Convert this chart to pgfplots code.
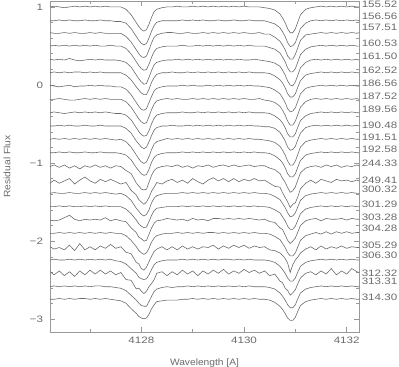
\documentclass[border=0pt]{standalone}
\usepackage{fontspec}
\setmainfont{Liberation Sans}[FakeStretch=1.25]
\newfontfamily\labfont{Liberation Sans}[FakeStretch=1.1]
\usepackage{pgfplots}
\usepackage{pgfplotstable}
\pgfplotsset{compat=1.18}

\definecolor{ink}{gray}{0.42}
\definecolor{frame}{gray}{0.6}
\definecolor{txt}{gray}{0.42}
\tikzset{
    spec/.style={ink, line width=0.6bp},
    lbl/.style={anchor=west, inner sep=0pt, txt},
}

% residual flux relative to each spectrum's continuum; offsets added at plot time
\pgfplotstableread{
x s1 s2 s3 s4 s5 s6 s7 s8 s9 s10 s11 s12 s13 s14 s15 s16 s17 s18 s19 s20 s21 s22 s23
4126.22 0 0 0.01 0 0.01 0 0.01 0 0 0 0 0 0.01 -0.02 0 0 0 0 0.02 0 0.02 0 0
4126.3 0.01 0 0 0.01 0 0.01 0 0 0.01 0 0.01 0 0.03 0.02 0.01 0 -0.01 0 -0.01 0.01 -0.02 0.01 0
4126.4 0 0.01 0 0 0.01 0 -0.01 0.01 0 0.01 0 0.01 0 -0.02 0 0.01 0 0.01 0.01 0 0.03 0 0.01
4126.5 -0.01 0 0.01 0.01 0 0.01 0 0 -0.01 0 0.01 0 0.03 0.01 0 0 0.03 0 -0.02 0 -0.03 0.01 0
4126.6 0 0.01 0 0 0.02 0 0.01 -0.01 0 0.01 0 0.01 -0.01 0.04 0.01 0.01 0.06 0.01 0.04 0.01 0.02 0 0.01
4126.7 0.01 0 0.01 0.01 0 0.01 -0.01 -0.01 0.01 0 0.01 0 0.02 -0.03 0 0 0.01 0 -0.03 0 -0.04 0.01 0
4126.8 0 0 0 0 -0.01 0.01 0 0 0 0 0 0 -0.02 0.02 0 0 -0.01 0.01 0.06 0.01 0.03 0 0.01
4126.9 0.01 0.01 0 0.01 0 0 0 0.01 0.01 0.01 0.01 0.01 0.02 0.06 0.01 0.01 0.01 0 -0.02 0 -0.02 0.01 0.01
4127.0 0 0 0.01 0 0.01 0.01 0.01 0 0 0 0 0 0 0.01 0 0 0 0.01 0.02 0.01 0.04 0 0
4127.1 0.01 0 0 0.01 0 0 0 0.01 0.01 0 0.01 0 0.03 -0.02 0.01 0.01 0.01 0 -0.02 0 -0.01 0.01 0.01
4127.2 0 0.01 0.01 0 0.01 0.01 0.01 0 0 0.01 0 0.01 0 0.03 0 0 0 0.01 0.03 0.01 0.04 0.01 0
4127.3 0.01 0 0 0 0 0 0 0.01 0.01 0 0.01 0 0.02 0 0.01 0.01 0.03 0 0 0 -0.01 0 0.01
4127.4 0 0 0 0.01 0 0 0 0 0 0 0 0 -0.01 0.03 0 0 -0.01 0.01 0.05 0.01 0.03 0 0
4127.5 0 -0.01 0 0 0 0 -0.01 0 -0.01 0 -0.01 0 0.02 0 -0.01 0 0.01 0 0 -0.01 -0.02 -0.01 -0.01
4127.6 0 -0.01 0 0 -0.01 0 -0.01 0 -0.01 0 0 -0.01 0.01 -0.03 0 0 -0.01 0 0.02 -0.02 0.01 -0.02 -0.02
4127.7 -0.03 -0.03 -0.04 -0.03 -0.03 -0.03 -0.04 -0.03 -0.03 -0.03 -0.03 -0.03 -0.04 -0.01 -0.03 -0.03 -0.02 -0.03 -0.05 -0.05 -0.08 -0.05 -0.05
4127.8 -0.10 -0.10 -0.11 -0.10 -0.09 -0.09 -0.11 -0.10 -0.09 -0.09 -0.10 -0.09 -0.08 -0.11 -0.09 -0.09 -0.10 -0.09 -0.07 -0.11 -0.09 -0.11 -0.12
4127.9 -0.20 -0.20 -0.21 -0.20 -0.19 -0.18 -0.21 -0.20 -0.19 -0.19 -0.20 -0.19 -0.20 -0.17 -0.19 -0.17 -0.16 -0.17 -0.18 -0.17 -0.20 -0.17 -0.18
4127.95 -0.25 -0.25 -0.26 -0.25 -0.24 -0.22 -0.26 -0.25 -0.24 -0.23 -0.25 -0.23 -0.24 -0.23 -0.23 -0.22 -0.22 -0.22 -0.20 -0.22 -0.19 -0.21 -0.22
4128.0 -0.29 -0.29 -0.30 -0.29 -0.28 -0.26 -0.30 -0.29 -0.28 -0.27 -0.29 -0.27 -0.28 -0.26 -0.27 -0.25 -0.24 -0.25 -0.26 -0.24 -0.23 -0.24 -0.24
4128.05 -0.31 -0.31 -0.31 -0.31 -0.31 -0.28 -0.31 -0.31 -0.30 -0.29 -0.31 -0.29 -0.29 -0.29 -0.29 -0.27 -0.27 -0.27 -0.28 -0.25 -0.26 -0.25 -0.25
4128.1 -0.29 -0.29 -0.29 -0.30 -0.30 -0.28 -0.29 -0.30 -0.29 -0.27 -0.29 -0.28 -0.28 -0.26 -0.27 -0.26 -0.26 -0.25 -0.24 -0.24 -0.23 -0.25 -0.24
4128.15 -0.22 -0.22 -0.21 -0.23 -0.22 -0.21 -0.21 -0.22 -0.23 -0.20 -0.22 -0.21 -0.19 -0.20 -0.21 -0.19 -0.18 -0.19 -0.17 -0.19 -0.17 -0.19 -0.19
4128.2 -0.13 -0.13 -0.12 -0.14 -0.13 -0.12 -0.13 -0.13 -0.14 -0.12 -0.13 -0.12 -0.10 -0.12 -0.12 -0.11 -0.10 -0.11 -0.10 -0.12 -0.13 -0.12 -0.12
4128.25 -0.06 -0.06 -0.05 -0.07 -0.06 -0.06 -0.06 -0.06 -0.07 -0.05 -0.06 -0.06 -0.04 -0.07 -0.06 -0.05 -0.04 -0.06 -0.04 -0.06 -0.08 -0.06 -0.07
4128.3 -0.03 -0.02 -0.02 -0.03 -0.03 -0.02 -0.03 -0.02 -0.03 -0.02 -0.03 -0.03 -0.01 -0.01 -0.03 -0.02 -0.01 -0.03 -0.01 -0.03 0 -0.03 -0.03
4128.4 -0.01 0 0 -0.01 -0.01 0 -0.01 0 -0.01 0 -0.01 -0.01 0.01 -0.03 -0.01 -0.01 0 -0.01 0.02 -0.01 0.02 -0.01 -0.02
4128.5 0 0 0.01 0 0 0 0 0.01 0 0 0.01 0 0.02 0.01 0 0 0.02 0 -0.02 0 -0.03 0 -0.01
4128.6 0 0 0.01 0 0 0.01 0 0 0 0.01 0 0 0.01 0.03 0 0 0.01 0 0.02 0 0.02 -0.01 -0.01
4128.7 0.01 0 0 0 0.01 0 0 0.01 0 0 0.01 0 0.03 -0.01 0 0 0 0.01 -0.02 0 -0.02 0 -0.01
4128.8 0 0.01 0 0.01 0 0 0.01 0 0.01 0 0 0.01 0 0.02 0.01 0.01 0.01 0 0.03 0.01 0.04 0 0
4128.9 0 0 0.01 0 0.01 0.01 0 0 0 0.01 0.01 0 0.02 -0.02 0 0 -0.01 0.01 -0.01 0 -0.01 0.01 0
4129.0 0.01 0.01 0 0 0 0 0.01 0.01 0 0 0 0.01 -0.01 0.04 0.01 0.01 0.02 0 0.02 0.01 0.03 0 0.01
4129.1 0 0 0 0.01 0.01 0.01 0 0 0.01 0.01 0.01 0 0.02 0 0 0 0 0.01 -0.01 0 -0.03 0.01 0
4129.2 0.01 0.01 0.01 0 0 0 0 0.01 0 0 0 0.01 0.01 -0.03 0.01 0.01 0.01 0 0.02 0.01 0.03 0 0.01
4129.3 0 0 0 0.01 0.01 0.01 0.01 0 0.01 0.01 0.01 0 0.03 0.02 0 0 -0.01 0.01 0.01 0 -0.01 0.01 0
4129.4 0.01 0 0.01 0 0 0 0 0.01 0 0 0 0.01 0 0.05 0.01 0.01 0.02 0.01 0.04 0.01 0.04 0 0.01
4129.5 0 0.01 0 0.01 0.01 0.01 0.01 0 0.01 0.01 0.01 0 0.02 0.01 0 0 0.02 0 -0.01 0 0 0.01 0
4129.6 0.01 0 0.01 0 0 0 0 0.01 0 0 0 0.01 0.03 0.04 0.01 0.01 0.01 0.01 0.03 0.01 0.05 0 0.01
4129.7 0 0 0 0.01 0.01 0.01 0.01 0 0.01 0.01 0.01 0 0.01 0 0 0 0.02 0 0 0.01 -0.01 0.01 0
4129.8 0.01 0.01 0.01 0 0 0 0 0.01 0 0 0 0.01 0.03 0.04 0.01 0.01 0.01 0.01 0.04 0 0.03 0 0.01
4129.9 0 0 0 0.01 0.01 0.01 0.01 0 0.01 0.01 0.01 0 0.01 0 0 0 0.02 0 0.01 0.01 0 0.01 0
4130.0 0.01 0 0.01 0 0 0 0 0.01 0 0 0 0.01 0.02 0.03 0.01 0.01 0.01 0.01 0.04 0 0.05 0 0.01
4130.1 0 0.01 0 0.01 0 0.01 0.01 0 0.01 0.01 0.01 0 0.03 0.01 0 0 0.02 0 0 0.01 0.01 0.01 0
4130.2 0 0 0 0 0.01 0 0 0 0 0 0 0.01 0.01 0.04 0.01 0.01 0.01 0.01 0.03 0 0.04 0 0.01
4130.3 0 0 0.01 0 0 0 0 0.01 0 0 0 0 0.02 0.01 0 0 0 0 0.01 0 0 0 0
4130.4 -0.01 0 -0.01 0 -0.01 0 -0.01 -0.01 0 -0.01 -0.01 0 0.02 0.02 0 0 0.01 0 0.02 0 0.03 0 0
4130.5 -0.02 -0.02 -0.01 -0.02 -0.02 -0.01 -0.02 -0.02 -0.01 -0.01 -0.02 -0.01 -0.01 -0.02 -0.01 -0.01 -0.02 -0.01 -0.02 -0.01 -0.03 -0.01 -0.01
4130.6 -0.04 -0.04 -0.05 -0.04 -0.04 -0.04 -0.05 -0.04 -0.04 -0.03 -0.04 -0.04 -0.03 -0.06 -0.04 -0.04 -0.03 -0.04 -0.03 -0.03 -0.01 -0.03 -0.04
4130.7 -0.09 -0.09 -0.10 -0.09 -0.08 -0.09 -0.10 -0.09 -0.09 -0.08 -0.09 -0.09 -0.08 -0.07 -0.08 -0.08 -0.10 -0.08 -0.06 -0.08 -0.10 -0.08 -0.09
4130.75 -0.14 -0.14 -0.15 -0.14 -0.13 -0.13 -0.15 -0.14 -0.13 -0.13 -0.14 -0.13 -0.14 -0.14 -0.13 -0.13 -0.12 -0.13 -0.09 -0.12 -0.12 -0.12 -0.13
4130.8 -0.20 -0.20 -0.21 -0.20 -0.19 -0.19 -0.21 -0.20 -0.19 -0.19 -0.20 -0.19 -0.19 -0.20 -0.18 -0.18 -0.19 -0.18 -0.13 -0.17 -0.19 -0.17 -0.18
4130.85 -0.28 -0.28 -0.29 -0.28 -0.27 -0.27 -0.29 -0.28 -0.27 -0.27 -0.28 -0.27 -0.26 -0.26 -0.25 -0.25 -0.26 -0.25 -0.19 -0.23 -0.22 -0.23 -0.24
4130.9 -0.33 -0.33 -0.33 -0.33 -0.32 -0.31 -0.33 -0.33 -0.31 -0.31 -0.33 -0.31 -0.32 -0.33 -0.30 -0.29 -0.30 -0.29 -0.31 -0.27 -0.28 -0.27 -0.27
4130.95 -0.33 -0.32 -0.33 -0.33 -0.33 -0.31 -0.32 -0.33 -0.31 -0.30 -0.33 -0.31 -0.30 -0.29 -0.29 -0.29 -0.27 -0.29 -0.21 -0.27 -0.25 -0.27 -0.27
4131.0 -0.28 -0.28 -0.27 -0.29 -0.28 -0.27 -0.28 -0.28 -0.27 -0.26 -0.28 -0.27 -0.25 -0.27 -0.25 -0.25 -0.23 -0.25 -0.15 -0.23 -0.21 -0.23 -0.23
4131.05 -0.19 -0.19 -0.18 -0.20 -0.19 -0.18 -0.19 -0.19 -0.18 -0.17 -0.19 -0.18 -0.16 -0.19 -0.17 -0.17 -0.15 -0.17 -0.11 -0.15 -0.13 -0.15 -0.15
4131.1 -0.10 -0.10 -0.09 -0.11 -0.10 -0.10 -0.10 -0.10 -0.10 -0.09 -0.10 -0.10 -0.07 -0.09 -0.09 -0.09 -0.07 -0.09 -0.06 -0.08 -0.06 -0.08 -0.08
4131.2 -0.03 -0.03 -0.02 -0.04 -0.03 -0.03 -0.03 -0.03 -0.04 -0.02 -0.03 -0.03 -0.01 -0.02 -0.03 -0.03 -0.01 -0.03 -0.01 -0.03 0 -0.03 -0.03
4131.3 -0.01 0 -0.01 -0.01 0 -0.01 -0.01 0 -0.01 0 -0.01 -0.01 0.01 0.02 -0.01 -0.01 0.01 -0.01 0.02 -0.01 0.02 -0.01 -0.01
4131.4 0 0.01 0 0 0.01 0 0 0.01 0 0.01 0 0 0.02 -0.02 0 0 0.02 0.01 -0.02 0 -0.02 0 0
4131.5 0.01 0 0.01 0.01 0 0.01 0.01 0 0.01 0 0.01 0.01 0 0.03 0.01 0.01 -0.01 -0.01 0.03 0.01 0.03 0.01 0.01
4131.6 0 0.01 0 0 0.01 0 0 0.01 0 0.01 0 0 0.03 0.01 0 0 0.02 0.02 -0.01 0 -0.01 0 0
4131.7 0.01 0 0.01 0.01 0 0.01 0.01 0 0.01 0 0.01 0.01 0.01 -0.01 0.01 0.01 0.01 -0.01 0.02 0.01 0.06 0.01 0.01
4131.8 0 0.01 0 0 0.01 0 0 0.01 0 0.01 0 0 0.03 0.03 0 0 0.01 0.02 0 0 -0.02 0 0
4131.9 0.01 0 0.01 0.01 0 0.01 0.01 0 0.01 0 0.01 0.01 0 0.01 0.01 0.01 0.02 0 0.03 0.01 0.03 0.01 0.01
4132.0 0 0.01 0 0 0.01 0 0 0.01 0 0.01 0 0 0.02 0.02 0 0 0 0.02 0 0 -0.01 0 0
4132.1 0.01 0 0.01 0.01 0 0.01 0.01 0 0.01 0 0.01 0.01 0.01 0 0.01 0.01 0.02 0 0.02 0.01 0.06 0.01 0.01
4132.2 0 0.01 0 0 0.01 0 0 0.01 0 0.01 0 0 0.03 0.02 0 0 0.01 0.01 0.01 0 0.02 0 0
4132.24 0 0 0.01 0 0 0 0 0 0 0 0 0 0.02 0.01 0 0 0.01 0.01 0.01 0 0.01 0 0
}\spec

\begin{document}
\begin{tikzpicture}[font=\fontsize{9.3bp}{11bp}\selectfont, color=txt]
\begin{axis}[
    scale only axis,
    width=309bp, height=331bp,
    xmin=4126.22, xmax=4132.24,
    ymin=-3.163, ymax=1.076,
    xtick={4128,4130,4132}, xticklabels={4128,4130,4132},
    minor xtick={4127,4129,4131},
    ytick={-3,-2,-1,0,1}, yticklabels={−3,−2,−1,0,1},
    minor y tick num=4,
    tick align=inside,
    major tick length=5bp, minor tick length=3bp,
    axis line style={frame, line width=0.6bp},
    every tick/.style={frame, line width=0.6bp},
    xticklabel style={yshift=-1.5bp},
    yticklabel style={xshift=-3.5bp},
    xlabel={\labfont Wavelength [A]},
    ylabel={\labfont Residual Flux},
    xlabel style={at={(axis description cs:0.5,-0.0997)}, anchor=base},
    ylabel style={at={(axis description cs:-0.128,0.5)}, anchor=base},
    clip=false,
]
\addplot[spec] table[x=x, y expr=\thisrow{s1}+1.000] {\spec};
\addplot[spec] table[x=x, y expr=\thisrow{s2}+0.823] {\spec};
\addplot[spec] table[x=x, y expr=\thisrow{s3}+0.662] {\spec};
\addplot[spec] table[x=x, y expr=\thisrow{s4}+0.499] {\spec};
\addplot[spec] table[x=x, y expr=\thisrow{s5}+0.320] {\spec};
\addplot[spec] table[x=x, y expr=\thisrow{s6}+0.157] {\spec};
\addplot[spec] table[x=x, y expr=\thisrow{s7}-0.013] {\spec};
\addplot[spec] table[x=x, y expr=\thisrow{s8}-0.183] {\spec};
\addplot[spec] table[x=x, y expr=\thisrow{s9}-0.355] {\spec};
\addplot[spec] table[x=x, y expr=\thisrow{s10}-0.525] {\spec};
\addplot[spec] table[x=x, y expr=\thisrow{s11}-0.695] {\spec};
\addplot[spec] table[x=x, y expr=\thisrow{s12}-0.867] {\spec};
\addplot[spec] table[x=x, y expr=\thisrow{s13}-1.054] {\spec};
\addplot[spec] table[x=x, y expr=\thisrow{s14}-1.238] {\spec};
\addplot[spec] table[x=x, y expr=\thisrow{s15}-1.387] {\spec};
\addplot[spec] table[x=x, y expr=\thisrow{s16}-1.558] {\spec};
\addplot[spec] table[x=x, y expr=\thisrow{s17}-1.729] {\spec};
\addplot[spec] table[x=x, y expr=\thisrow{s18}-1.899] {\spec};
\addplot[spec] table[x=x, y expr=\thisrow{s19}-2.091] {\spec};
\addplot[spec] table[x=x, y expr=\thisrow{s20}-2.241] {\spec};
\addplot[spec] table[x=x, y expr=\thisrow{s21}-2.411] {\spec};
\addplot[spec] table[x=x, y expr=\thisrow{s22}-2.583] {\spec};
\addplot[spec] table[x=x, y expr=\thisrow{s23}-2.744] {\spec};

\node[lbl] at (axis cs:4132.29,1.037) {155.52};
\node[lbl] at (axis cs:4132.29,0.875) {156.56};
\node[lbl] at (axis cs:4132.29,0.734) {157.51};
\node[lbl] at (axis cs:4132.29,0.534) {160.53};
\node[lbl] at (axis cs:4132.29,0.362) {161.50};
\node[lbl] at (axis cs:4132.29,0.183) {162.52};
\node[lbl] at (axis cs:4132.29,0.022) {186.56};
\node[lbl] at (axis cs:4132.29,-0.141) {187.52};
\node[lbl] at (axis cs:4132.29,-0.311) {189.56};
\node[lbl] at (axis cs:4132.29,-0.512) {190.48};
\node[lbl] at (axis cs:4132.29,-0.675) {191.51};
\node[lbl] at (axis cs:4132.29,-0.823) {192.58};
\node[lbl] at (axis cs:4132.29,-1.003) {244.33};
\node[lbl] at (axis cs:4132.29,-1.225) {249.41};
\node[lbl] at (axis cs:4132.29,-1.335) {300.32};
\node[lbl] at (axis cs:4132.29,-1.528) {301.29};
\node[lbl] at (axis cs:4132.29,-1.694) {303.28};
\node[lbl] at (axis cs:4132.29,-1.835) {304.28};
\node[lbl] at (axis cs:4132.29,-2.048) {305.29};
\node[lbl] at (axis cs:4132.29,-2.178) {306.30};
\node[lbl] at (axis cs:4132.29,-2.411) {312.32};
\node[lbl] at (axis cs:4132.29,-2.519) {313.31};
\node[lbl] at (axis cs:4132.29,-2.718) {314.30};
\end{axis}
\pgfresetboundingbox
\path[use as bounding box] ([shift={(-50bp,-35bp)}]current axis.south west)
    rectangle ([shift={(40bp,1bp)}]current axis.north east);
\end{tikzpicture}
\end{document}
